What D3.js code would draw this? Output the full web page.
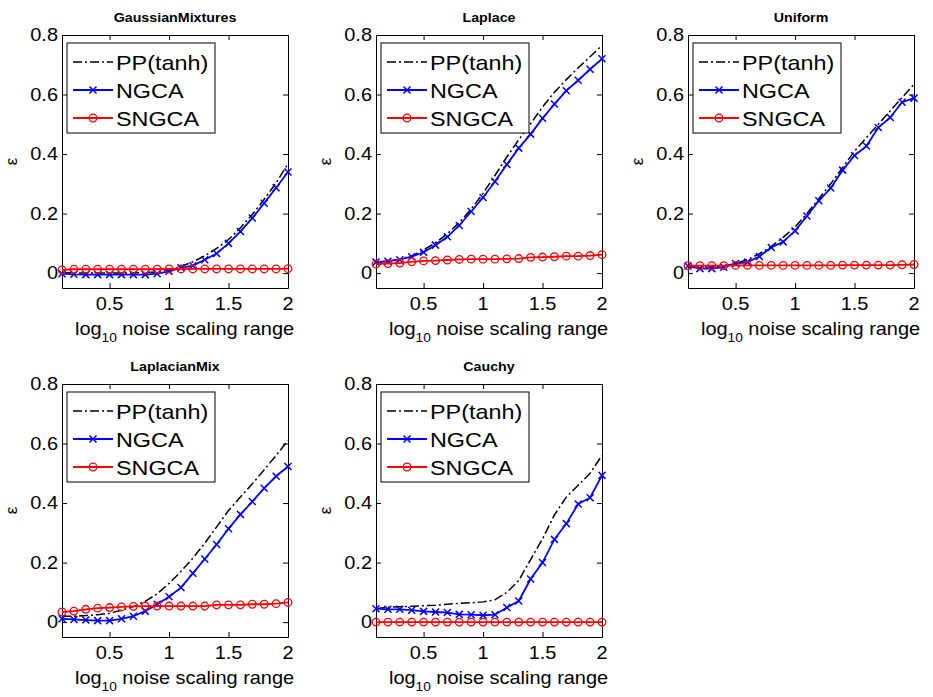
<!DOCTYPE html>
<html>
<head>
<meta charset="utf-8">
<script src="https://cdn.jsdelivr.net/npm/d3@7"></script>
<style>
  body { margin: 0; background: #fff; }
  svg { display: block; font-family: Arial, "Liberation Sans", sans-serif; }
</style>
</head>
<body>
<svg id="chart" width="933" height="697"></svg>
<script>
// x grid: log10 noise scaling range
var xVals = [0.1, 0.2, 0.3, 0.4, 0.5, 0.6, 0.7, 0.8, 0.9, 1.0,
             1.1, 1.2, 1.3, 1.4, 1.5, 1.6, 1.7, 1.8, 1.9, 2.0];

var panelTitles = ["GaussianMixtures", "Laplace", "Uniform", "LaplacianMix", "Cauchy"];
var seriesNames = ["PP(tanh)", "NGCA", "SNGCA"];
var xTicks = [0.5, 1, 1.5, 2];
var yTicks = [0, 0.2, 0.4, 0.6, 0.8];

// GaussianMixtures
var ppGauss    = [0.002, 0.001, 0.000, 0.000, 0.000, 0.000, 0.001, 0.002, 0.004, 0.010,
                  0.022, 0.038, 0.058, 0.083, 0.113, 0.152, 0.197, 0.248, 0.303, 0.368];
var ngcaGauss  = [-0.002, -0.004, -0.005, -0.005, -0.005, -0.005, -0.005, -0.005, -0.002, 0.006,
                  0.018, 0.025, 0.045, 0.066, 0.100, 0.140, 0.185, 0.235, 0.287, 0.340];
var sngcaGauss = [0.011, 0.013, 0.013, 0.013, 0.013, 0.013, 0.013, 0.013, 0.013, 0.014,
                  0.014, 0.014, 0.014, 0.014, 0.014, 0.014, 0.014, 0.014, 0.014, 0.015];

// Laplace
var ppLaplace    = [0.036, 0.040, 0.047, 0.058, 0.078, 0.102, 0.132, 0.170, 0.215, 0.268,
                    0.328, 0.390, 0.448, 0.502, 0.558, 0.608, 0.650, 0.690, 0.727, 0.765];
var ngcaLaplace  = [0.037, 0.040, 0.045, 0.055, 0.070, 0.094, 0.122, 0.160, 0.207, 0.254,
                    0.308, 0.365, 0.420, 0.467, 0.520, 0.568, 0.613, 0.648, 0.685, 0.720];
var sngcaLaplace = [0.030, 0.032, 0.034, 0.038, 0.041, 0.042, 0.044, 0.046, 0.047, 0.047,
                    0.047, 0.048, 0.049, 0.053, 0.054, 0.055, 0.057, 0.057, 0.059, 0.062];

// Uniform
var ppUniform    = [0.020, 0.020, 0.021, 0.024, 0.033, 0.045, 0.065, 0.090, 0.120, 0.155,
                    0.200, 0.250, 0.300, 0.355, 0.410, 0.455, 0.500, 0.545, 0.590, 0.635];
var ngcaUniform  = [0.024, 0.015, 0.015, 0.020, 0.032, 0.037, 0.056, 0.086, 0.105, 0.142,
                    0.192, 0.243, 0.286, 0.346, 0.395, 0.427, 0.489, 0.523, 0.574, 0.588];
var sngcaUniform = [0.025, 0.025, 0.025, 0.025, 0.026, 0.026, 0.026, 0.026, 0.026, 0.026,
                    0.026, 0.026, 0.026, 0.027, 0.027, 0.027, 0.027, 0.027, 0.028, 0.029];

// LaplacianMix
var ppLapMix    = [0.020, 0.020, 0.022, 0.025, 0.030, 0.040, 0.052, 0.070, 0.095, 0.130,
                   0.170, 0.215, 0.265, 0.320, 0.375, 0.420, 0.465, 0.512, 0.560, 0.610];
var ngcaLapMix  = [0.011, 0.009, 0.007, 0.005, 0.005, 0.011, 0.020, 0.037, 0.060, 0.085,
                   0.116, 0.164, 0.212, 0.261, 0.314, 0.362, 0.405, 0.450, 0.490, 0.523];
var sngcaLapMix = [0.034, 0.037, 0.043, 0.047, 0.049, 0.051, 0.053, 0.054, 0.054, 0.054,
                   0.054, 0.054, 0.054, 0.058, 0.058, 0.058, 0.060, 0.060, 0.062, 0.066];

// Cauchy
var ppCauchy    = [0.045, 0.050, 0.052, 0.053, 0.055, 0.057, 0.060, 0.063, 0.065, 0.068,
                   0.075, 0.100, 0.140, 0.210, 0.280, 0.360, 0.420, 0.460, 0.500, 0.560];
var ngcaCauchy  = [0.045, 0.043, 0.043, 0.040, 0.036, 0.034, 0.032, 0.026, 0.025, 0.023,
                   0.025, 0.049, 0.071, 0.145, 0.200, 0.278, 0.331, 0.397, 0.418, 0.493];
var sngcaCauchy = [0.000, 0.000, 0.000, 0.000, 0.000, 0.000, 0.000, 0.000, 0.000, 0.000,
                   0.000, 0.000, 0.000, 0.000, 0.000, 0.000, 0.000, 0.000, 0.000, 0.000];

var panelSeries = [
    [ppGauss, ngcaGauss, sngcaGauss],
    [ppLaplace, ngcaLaplace, sngcaLaplace],
    [ppUniform, ngcaUniform, sngcaUniform],
    [ppLapMix, ngcaLapMix, sngcaLapMix],
    [ppCauchy, ngcaCauchy, sngcaCauchy]
];

var colLeft = [62, 376, 688],
    rowTop = [35, 384],
    pw = 226,
    ph = 253,
    stretch = 1.14;

var svg = d3.select("#chart");

// MATLAB-ish wide text: scale horizontally round the anchor
function addText(parent, x, y, str, size, anchor, weight) {
    var t = parent.append("g")
        .attr("transform", "translate(" + x + "," + y + ") scale(" + stretch + ",1)")
        .append("text")
        .attr("font-size", size)
        .attr("text-anchor", anchor || "start")
        .attr("fill", "#000")
        .text(str);
    if (weight) t.attr("font-weight", weight);
    return t;
}

function drawCross(g, cx, cy, s, color) {
    g.append("path")
        .attr("d", "M" + (cx - s) + "," + (cy - s) + "L" + (cx + s) + "," + (cy + s) +
                   "M" + (cx - s) + "," + (cy + s) + "L" + (cx + s) + "," + (cy - s))
        .attr("stroke", color).attr("stroke-width", 1.5).attr("fill", "none");
}

function drawCircle(g, cx, cy, r, color) {
    g.append("circle")
        .attr("cx", cx).attr("cy", cy).attr("r", r)
        .attr("fill", "none").attr("stroke", color).attr("stroke-width", 1.3);
}

var styles = [
    { color: "#000000", dash: "9,3,2,3", width: 1.5, marker: null },
    { color: "#0000ff", dash: null, width: 1.8, marker: "x" },
    { color: "#ff0000", dash: null, width: 1.8, marker: "o" }
];

panelTitles.forEach(function (title, i) {
    var left = colLeft[i % 3],
        top = rowTop[Math.floor(i / 3)];

    var x = d3.scaleLinear().domain([0.1, 2]).range([left, left + pw]);
    var y = d3.scaleLinear().domain([-0.05, 0.8]).range([top + ph, top]);

    var g = svg.append("g");

    // title
    addText(g, left + pw / 2, top - 13, title, 12.5, "middle", "bold");

    // axes box with inward ticks on all four sides
    g.append("g").attr("transform", "translate(0," + (top + ph) + ")")
        .call(d3.axisBottom(x).tickValues(xTicks).tickSizeInner(-5).tickSizeOuter(0).tickFormat(""));
    g.append("g").attr("transform", "translate(0," + top + ")")
        .call(d3.axisTop(x).tickValues(xTicks).tickSizeInner(-5).tickSizeOuter(0).tickFormat(""));
    g.append("g").attr("transform", "translate(" + left + ",0)")
        .call(d3.axisLeft(y).tickValues(yTicks).tickSizeInner(-5).tickSizeOuter(0).tickFormat(""));
    g.append("g").attr("transform", "translate(" + (left + pw) + ",0)")
        .call(d3.axisRight(y).tickValues(yTicks).tickSizeInner(-5).tickSizeOuter(0).tickFormat(""));
    g.selectAll(".domain, .tick line").attr("stroke", "#000").attr("stroke-width", 1);

    // tick labels
    yTicks.forEach(function (v) {
        addText(g, left - 4, y(v) + 6, d3.format("")(v), 17.5, "end");
    });
    xTicks.forEach(function (v) {
        addText(g, x(v), top + ph + 22, d3.format("")(v), 17.5, "middle");
    });

    // x label with subscript
    var xl = addText(g, left + 13, top + ph + 47, "log", 17.5, "start");
    xl.append("tspan").attr("font-size", 12).attr("dy", 7).text("10");
    xl.append("tspan").attr("dy", -7).text(" noise scaling range");

    // y label
    g.append("text")
        .attr("transform", "translate(" + (left - 45) + "," + (top + ph / 2) + ") rotate(-90)")
        .attr("text-anchor", "middle")
        .attr("font-size", 17)
        .text("\u03b5");

    // series
    panelSeries[i].forEach(function (vals, k) {
        var st = styles[k];
        var pts = xVals.map(function (xv, j) { return [x(xv), y(vals[j])]; });
        var path = g.append("path")
            .attr("d", d3.line()(pts))
            .attr("fill", "none")
            .attr("stroke", st.color)
            .attr("stroke-width", st.width);
        if (st.dash) path.attr("stroke-dasharray", st.dash);
        pts.forEach(function (p) {
            if (st.marker === "x") drawCross(g, p[0], p[1], 3.5, st.color);
            if (st.marker === "o") drawCircle(g, p[0], p[1], 3.8, st.color);
        });
    });

    // legend
    var lx = left + 5, ly = top + 8, lw = 148, lh = 90;
    g.append("rect")
        .attr("x", lx).attr("y", ly).attr("width", lw).attr("height", lh)
        .attr("fill", "#fff").attr("stroke", "#000").attr("stroke-width", 1);
    seriesNames.forEach(function (name, k) {
        var st = styles[k],
            yy = ly + 19 + k * 28;
        var ln = g.append("line")
            .attr("x1", lx + 6).attr("x2", lx + 46)
            .attr("y1", yy).attr("y2", yy)
            .attr("stroke", st.color).attr("stroke-width", st.width);
        if (st.dash) ln.attr("stroke-dasharray", st.dash);
        if (st.marker === "x") drawCross(g, lx + 26, yy, 3.5, st.color);
        if (st.marker === "o") drawCircle(g, lx + 26, yy, 3.8, st.color);
        addText(g, lx + 49, yy + 7.5, name, 20.5, "start");
    });
});
</script>
</body>
</html>
